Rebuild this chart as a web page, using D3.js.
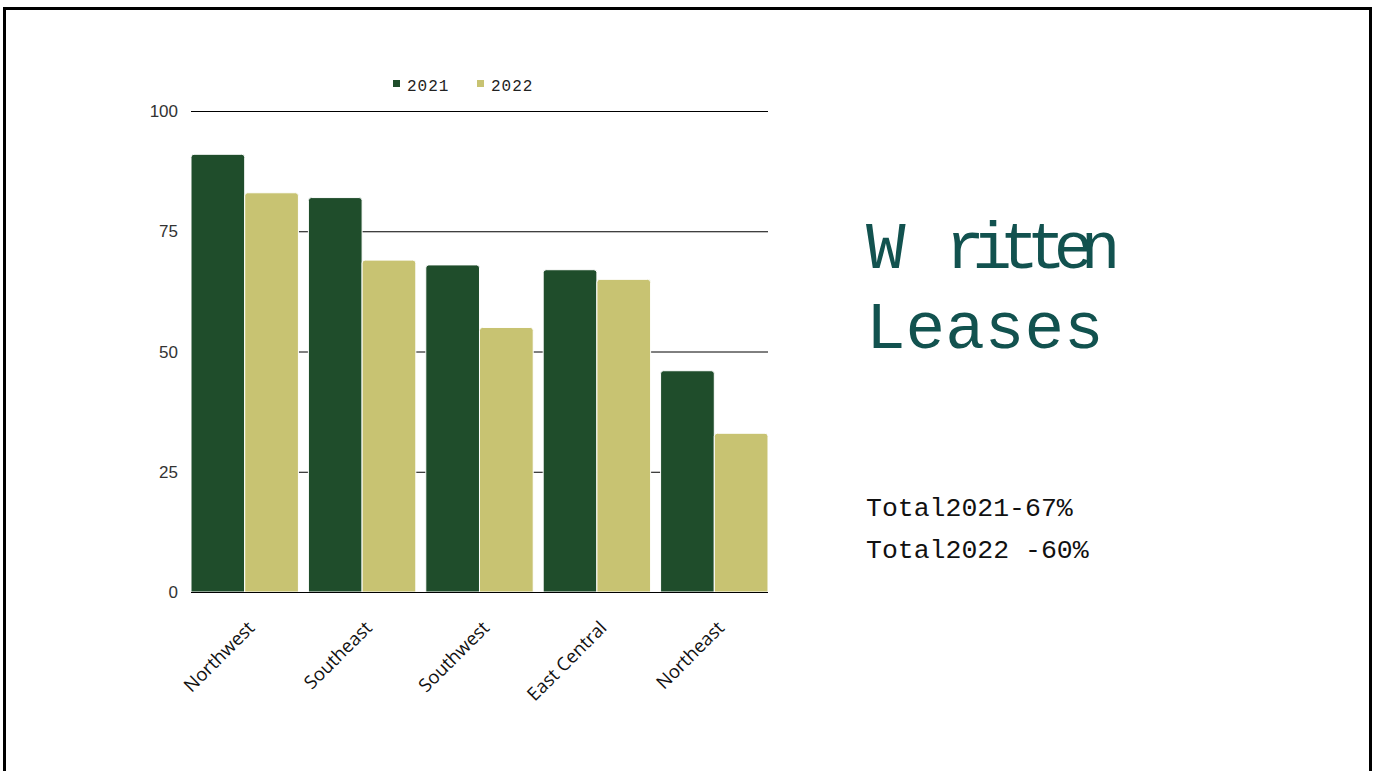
<!DOCTYPE html>
<html>
<head>
<meta charset="utf-8">
<script src="https://cdn.jsdelivr.net/npm/d3@7"></script>
<style>
  body { margin: 0; background: #fff; }
  svg { display: block; }
</style>
</head>
<body>
<svg id="chart" width="1375" height="771"></svg>
<script>
// chart data
const regions = ["Northwest", "Southeast", "Southwest", "East Central", "Northeast"];
const years = ["2021", "2022"];
const values2021 = [91, 82, 68, 67, 46];
const values2022 = [83, 69, 55, 65, 33];
const yTicks = [0, 25, 50, 75, 100];
const totals = ["Total2021-67%", "Total2022 -60%"];

const colors = { "2021": "#1f4d2b", "2022": "#c8c372" };

const svg = d3.select("#chart");

// slide frame
svg.append("rect")
  .attr("x", 4.5).attr("y", 8.5)
  .attr("width", 1366).attr("height", 800)
  .attr("fill", "none").attr("stroke", "#000").attr("stroke-width", 3);

const margin = { left: 191, right: 768, top: 111, bottom: 592 };

const x = d3.scaleBand()
  .domain(regions)
  .range([margin.left, margin.right])
  .paddingInner(0.085)
  .paddingOuter(0);

const x1 = d3.scaleBand()
  .domain(years)
  .range([0, x.bandwidth()])
  .padding(0);

const y = d3.scaleLinear()
  .domain([0, 100])
  .range([margin.bottom, margin.top]);

// gridlines
svg.append("g")
  .selectAll("line")
  .data(yTicks.filter(d => d > 0))
  .join("line")
  .attr("x1", margin.left).attr("x2", margin.right)
  .attr("y1", d => y(d) + 0.5).attr("y2", d => y(d) + 0.5)
  .attr("stroke", "#000").attr("stroke-width", 1);

// y tick labels
svg.append("g")
  .selectAll("text")
  .data(yTicks)
  .join("text")
  .attr("x", 178)
  .attr("y", d => y(d) + 6)
  .attr("text-anchor", "end")
  .attr("font-family", "Liberation Sans, sans-serif")
  .attr("font-size", 17)
  .attr("fill", "#333")
  .text(d => d);

// bars
const rows = regions.map((r, i) => ({ region: r, vals: [
  { year: "2021", value: values2021[i] },
  { year: "2022", value: values2022[i] }
]}));

function topRounded(x0, y0, w, h, r) {
  return `M${x0},${y0 + h}V${y0 + r}Q${x0},${y0} ${x0 + r},${y0}H${x0 + w - r}Q${x0 + w},${y0} ${x0 + w},${y0 + r}V${y0 + h}Z`;
}

svg.append("g")
  .selectAll("g")
  .data(rows)
  .join("g")
  .attr("transform", d => `translate(${x(d.region)},0)`)
  .selectAll("path")
  .data(d => d.vals)
  .join("path")
  .attr("d", d => topRounded(x1(d.year), y(d.value), x1.bandwidth(), y(0) - y(d.value), 3))
  .attr("fill", d => colors[d.year])
  .attr("stroke", "#fff")
  .attr("stroke-width", 1);

// baseline
svg.append("line")
  .attr("x1", margin.left).attr("x2", margin.right)
  .attr("y1", y(0) + 0.5).attr("y2", y(0) + 0.5)
  .attr("stroke", "#000").attr("stroke-width", 1.2);

// x labels, rotated
svg.append("g")
  .selectAll("text")
  .data(regions)
  .join("text")
  .attr("transform", d => `translate(${x(d) + x.bandwidth() / 2 + 11},${y(0) + 37}) rotate(-45)`)
  .attr("text-anchor", "end")
  .attr("font-family", "Open Sans, sans-serif")
  .attr("font-size", 18.5)
  .attr("fill", "#111")
  .text(d => d);

// legend
const legend = svg.append("g")
  .selectAll("g")
  .data(years)
  .join("g")
  .attr("transform", (d, i) => `translate(${393 + i * 84},80)`);
legend.append("rect")
  .attr("width", 7).attr("height", 7)
  .attr("fill", d => colors[d]);
legend.append("text")
  .attr("x", 14).attr("y", 11)
  .attr("font-family", "Liberation Mono, monospace")
  .attr("font-size", 16)
  .attr("letter-spacing", 1)
  .attr("fill", "#222")
  .text(d => d);

// title
const title = svg.append("g")
  .attr("font-family", "Liberation Mono, monospace")
  .attr("font-size", 66)
  .attr("fill", "#12524f");
const t1 = title.append("text").attr("x", 866).attr("y", 268);
t1.append("tspan").text("W ");
t1.append("tspan").attr("letter-spacing", -12.5).text("ritten");
title.append("text").attr("x", 866).attr("y", 348).text("Leases");

// totals
svg.append("g")
  .selectAll("text")
  .data(totals)
  .join("text")
  .attr("x", 866)
  .attr("y", (d, i) => 516 + i * 42)
  .attr("font-family", "Liberation Mono, monospace")
  .attr("font-size", 26.5)
  .attr("fill", "#111")
  .text(d => d);
</script>
</body>
</html>
